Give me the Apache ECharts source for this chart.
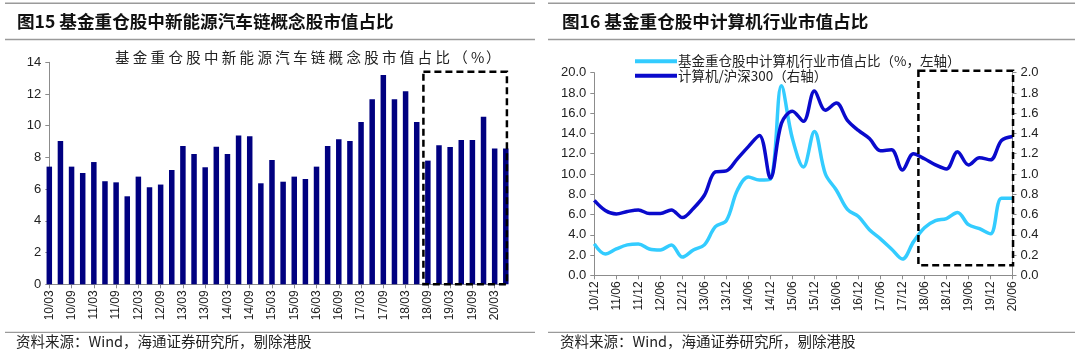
<!DOCTYPE html>
<html><head><meta charset="utf-8">
<script src="https://cdn.jsdelivr.net/npm/echarts@6/dist/echarts.min.js"></script>
<style>html,body{margin:0;padding:0;background:#fff}#c{width:1080px;height:361px}</style>
</head><body><div id="c"></div>
<script>
// ---- Figure 15 data (quarterly) ----
const barCats = ['10/03','10/06','10/09','10/12','11/03','11/06','11/09','11/12','12/03','12/06','12/09','12/12',
 '13/03','13/06','13/09','13/12','14/03','14/06','14/09','14/12','15/03','15/06','15/09','15/12',
 '16/03','16/06','16/09','16/12','17/03','17/06','17/09','17/12','18/03','18/06','18/09','18/12',
 '19/03','19/06','19/09','19/12','20/03','20/06'];
const nevShare = [7.42,9.04,7.42,7.02,7.71,6.50,6.43,5.55,6.79,6.12,6.29,7.21,
 8.72,8.22,7.38,8.68,8.22,9.38,9.33,6.37,7.84,6.47,6.79,6.64,
 7.42,8.72,9.14,9.04,10.24,11.67,13.20,11.67,12.17,10.24,7.80,8.77,
 8.66,9.10,9.10,10.57,8.56,8.56];
const barTicks = [0,2,4,6,8,10,12,14];

// ---- Figure 16 data (quarterly) ----
const lineCats = ['10/12','11/03','11/06','11/09','11/12','12/03','12/06','12/09','12/12',
 '13/03','13/06','13/09','13/12','14/03','14/06','14/09','14/12','15/03','15/06','15/09','15/12',
 '16/03','16/06','16/09','16/12','17/03','17/06','17/09','17/12','18/03','18/06','18/09','18/12',
 '19/03','19/06','19/09','19/12','20/03','20/06'];
const compShare = [3.1,2.1,2.6,3.0,3.1,2.6,2.5,3.0,1.8,2.5,3.0,4.8,5.4,8.4,9.7,9.4,9.5,18.7,13.5,10.7,14.2,
 10.0,8.4,6.5,5.8,4.5,3.6,2.6,1.6,3.3,4.7,5.4,5.6,6.2,5.0,4.6,4.1,7.6,7.6];
const compVsHs300 = [0.74,0.64,0.605,0.63,0.645,0.61,0.61,0.645,0.57,0.66,0.79,1.02,1.03,1.15,1.27,1.38,0.96,
 1.50,1.62,1.52,1.82,1.63,1.70,1.53,1.43,1.35,1.23,1.24,1.04,1.20,1.15,1.09,1.05,1.22,1.09,1.16,1.14,1.33,1.37];
const leftTicks = [0,2,4,6,8,10,12,14,16,18,20];
const rightTicks = [0,0.2,0.4,0.6,0.8,1.0,1.2,1.4,1.6,1.8,2.0];

const titleL = '图15 基金重仓股中新能源汽车链概念股市值占比';
const titleR = '图16 基金重仓股中计算机行业市值占比';
const innerL = '基金重仓股中新能源汽车链概念股市值占比（%）';
const nameA = '基金重仓股中计算机行业市值占比（%，左轴）';
const nameB = '计算机/沪深300（右轴）';
const source = '资料来源：Wind，海通证券研究所，剔除港股';

const CJK = '"Noto Sans CJK SC", sans-serif';
const NUM = '"Liberation Sans", Arial, sans-serif';
const axisGray = '#8c8c8c';
const txt = '#222';

const chart = echarts.init(document.getElementById('c'));

function hdr(x, text){
  return {type:'text', left:x, top:12.5, style:{text:text, font:'bold 17.6px '+CJK, fill:'#111'}};
}
function hline(x1,x2,y,c,w){
  return {type:'line', shape:{x1:x1,y1:y,x2:x2,y2:y}, style:{stroke:c, lineWidth:w}};
}
// text with wider character pitch (like the SimSun original)
const mctx = document.createElement('canvas').getContext('2d');
function spaced(str, x, y, size, adv){
  const font = size+'px '+CJK;
  mctx.font = font;
  const kids = []; let cx = 0;
  for (const ch of str){
    const full = ch.charCodeAt(0) > 0x2e80;
    const w = full ? adv : mctx.measureText(ch).width + (adv-size)*0.5;
    kids.push({type:'text', x:cx, y:0, style:{text:ch, font:font, fill:txt}});
    cx += w;
  }
  return {type:'group', x:x, y:y, children:kids};
}

const option = {
  animation:false,
  backgroundColor:'#fff',
  grid:[
    {left:49.3, top:62.3, width:456.5, height:222},
    {left:594.3, top:72.7, width:418.2, height:202.6}
  ],
  legend:{
    orient:'vertical', left:630, top:49.5, itemWidth:42, itemHeight:4, itemGap:1,
    icon:'rect',
    textStyle:{fontFamily:CJK, fontSize:13.5, color:txt, padding:[0,0,0,-4]},
    data:[nameA, nameB]
  },
  xAxis:[
    {type:'category', gridIndex:0, data:barCats, boundaryGap:false,
     axisLine:{lineStyle:{color:axisGray}},
     axisTick:{interval:1, length:4, lineStyle:{color:axisGray}},
     axisLabel:{interval:1, rotate:90, fontFamily:NUM, fontSize:12, color:txt, margin:6}},
    {type:'category', gridIndex:1, data:lineCats, boundaryGap:false,
     axisLine:{lineStyle:{color:axisGray}},
     axisTick:{interval:1, length:4, lineStyle:{color:axisGray}},
     axisLabel:{interval:1, rotate:90, fontFamily:NUM, fontSize:12, color:txt, margin:6}}
  ],
  yAxis:[
    {type:'value', gridIndex:0, min:barTicks[0], max:barTicks[barTicks.length-1], interval:2,
     axisLine:{show:true, lineStyle:{color:axisGray}},
     axisTick:{show:true, length:4, lineStyle:{color:axisGray}},
     splitLine:{show:false},
     axisLabel:{fontFamily:NUM, fontSize:13, color:txt, margin:8}},
    {type:'value', gridIndex:1, min:leftTicks[0], max:leftTicks[leftTicks.length-1], interval:2,
     axisLine:{show:true, lineStyle:{color:axisGray}},
     axisTick:{show:true, length:4, lineStyle:{color:axisGray}},
     splitLine:{show:false},
     axisLabel:{fontFamily:NUM, fontSize:13, color:txt, margin:8, formatter:v=>v.toFixed(1)}},
    {type:'value', gridIndex:1, position:'right', min:rightTicks[0], max:rightTicks[rightTicks.length-1], interval:0.2,
     axisLine:{show:true, lineStyle:{color:axisGray}},
     axisTick:{show:true, length:4, lineStyle:{color:axisGray}},
     splitLine:{show:false},
     axisLabel:{fontFamily:NUM, fontSize:13, color:txt, margin:8, formatter:v=>v.toFixed(1)}}
  ],
  series:[
    {type:'bar', name:innerL, xAxisIndex:0, yAxisIndex:0, data:nevShare, barWidth:5.5,
     itemStyle:{color:'#000080'}},
    {type:'line', name:nameA, xAxisIndex:1, yAxisIndex:1, data:compShare, smooth:0.35,
     showSymbol:false, lineStyle:{color:'#33ccff', width:3.5}, itemStyle:{color:'#33ccff'}},
    {type:'line', name:nameB, xAxisIndex:1, yAxisIndex:2, data:compVsHs300, smooth:0.35,
     showSymbol:false, lineStyle:{color:'#0a0acc', width:3.5}, itemStyle:{color:'#0a0acc'}}
  ]
};
chart.setOption(option);

// dashed highlight boxes positioned through the axes
function px(xIdx, yIdx, idx, val){
  const a = chart.convertToPixel({xAxisIndex:xIdx, yAxisIndex:yIdx}, [0, val]);
  const b = chart.convertToPixel({xAxisIndex:xIdx, yAxisIndex:yIdx}, [1, val]);
  return [a[0] + (b[0]-a[0])*idx, a[1]];
}
function box(xIdx, yIdx, i0, i1, v0, v1){
  const p0 = px(xIdx, yIdx, i0, v1), p1 = px(xIdx, yIdx, i1, v0);
  return {type:'rect', shape:{x:p0[0], y:p0[1], width:p1[0]-p0[0], height:p1[1]-p0[1]},
    style:{fill:'none', stroke:'#000', lineWidth:2.5, lineDash:[7,4]}, z:100};
}

chart.setOption({graphic:[
  hline(5,535,3.3,'#9a9a9a',1.5), hline(5,535,39.5,'#9a9a9a',1.5),
  hline(548,1075,3.3,'#9a9a9a',1.5), hline(548,1075,39.5,'#9a9a9a',1.5),
  hline(5,535,332.3,'#9a9a9a',1.2), hline(548,1075,332.3,'#9a9a9a',1.2),
  hdr(17,titleL), hdr(562,titleR),
  spaced(innerL, 115, 50, 14.5, 17.8),
  {type:'text', left:16, top:334, style:{text:source, font:'14.5px '+CJK, fill:txt}},
  {type:'text', left:560, top:334, style:{text:source, font:'14.5px '+CJK, fill:txt}},
  box(0,0,33.6,41.1,0,13.4),
  box(1,1,29.45,38.05,1.0,20.2)
]});
</script></body></html>
